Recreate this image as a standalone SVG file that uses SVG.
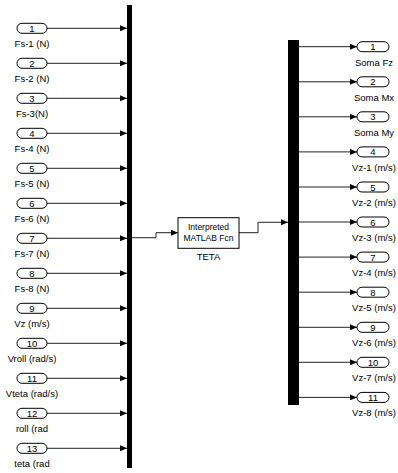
<svg xmlns="http://www.w3.org/2000/svg" width="398" height="473" viewBox="0 0 398 473">
<defs>
<marker id="ah" markerWidth="7" markerHeight="6" refX="7" refY="3" orient="auto" markerUnits="userSpaceOnUse"><path d="M0,0 L7,3 L0,6 Z" fill="#000"/></marker>
</defs>
<style>
text{font-family:"Liberation Sans",Arial,sans-serif;fill:#000;text-anchor:middle}
.port{fill:#fff;stroke:#000;stroke-width:1}
.num{font-size:9.5px}
.lbl{font-size:9.5px}
.bar{fill:#000}
.wire{fill:none;stroke:#222;stroke-width:1;marker-end:url(#ah)}
.blk{fill:#fff;stroke:#000;stroke-width:1}
</style>
<rect width="398" height="473" fill="#fff"/>
<g id="connectors">
<path class="wire" d="M47,28.3H127"/>
<path class="wire" d="M47,63.3H127"/>
<path class="wire" d="M47,98.3H127"/>
<path class="wire" d="M47,133.3H127"/>
<path class="wire" d="M47,168.3H127"/>
<path class="wire" d="M47,203.3H127"/>
<path class="wire" d="M47,238.3H127"/>
<path class="wire" d="M47,273.3H127"/>
<path class="wire" d="M47,308.3H127"/>
<path class="wire" d="M47,343.3H127"/>
<path class="wire" d="M47,378.3H127"/>
<path class="wire" d="M47,413.3H127"/>
<path class="wire" d="M47,448.3H127"/>
<path class="wire" d="M132,237.7H156V232.7H178"/>
<path class="wire" d="M239,232.7H258V222.3H288"/>
<path class="wire" d="M299,46.7H357"/>
<path class="wire" d="M299,81.8H357"/>
<path class="wire" d="M299,116.8H357"/>
<path class="wire" d="M299,151.9H357"/>
<path class="wire" d="M299,187H357"/>
<path class="wire" d="M299,222H357"/>
<path class="wire" d="M299,257.1H357"/>
<path class="wire" d="M299,292.2H357"/>
<path class="wire" d="M299,327.3H357"/>
<path class="wire" d="M299,362.3H357"/>
<path class="wire" d="M299,397.4H357"/>
</g>
<g id="mux_in"><rect class="bar" x="127" y="5" width="5" height="463"/></g>
<g id="mux_out"><rect class="bar" x="288" y="40" width="11" height="365"/></g>
<g id="teta">
<rect class="blk" x="178" y="217.7" width="61" height="30.6"/>
<text x="208.5" y="230" font-size="8.5">Interpreted</text>
<text x="208.5" y="241" font-size="8.5">MATLAB Fcn</text>
<text x="208.5" y="260" class="lbl">TETA</text>
</g>
<g id="in1"><rect class="port" x="17" y="23.3" width="30" height="10" rx="5"/><text class="num" x="32" y="31.8">1</text><text class="lbl" x="32" y="46.8">Fs-1 (N)</text></g>
<g id="in2"><rect class="port" x="17" y="58.3" width="30" height="10" rx="5"/><text class="num" x="32" y="66.8">2</text><text class="lbl" x="32" y="81.8">Fs-2 (N)</text></g>
<g id="in3"><rect class="port" x="17" y="93.3" width="30" height="10" rx="5"/><text class="num" x="32" y="101.8">3</text><text class="lbl" x="32" y="116.8">Fs-3(N)</text></g>
<g id="in4"><rect class="port" x="17" y="128.3" width="30" height="10" rx="5"/><text class="num" x="32" y="136.8">4</text><text class="lbl" x="32" y="151.8">Fs-4 (N)</text></g>
<g id="in5"><rect class="port" x="17" y="163.3" width="30" height="10" rx="5"/><text class="num" x="32" y="171.8">5</text><text class="lbl" x="32" y="186.8">Fs-5 (N)</text></g>
<g id="in6"><rect class="port" x="17" y="198.3" width="30" height="10" rx="5"/><text class="num" x="32" y="206.8">6</text><text class="lbl" x="32" y="221.8">Fs-6 (N)</text></g>
<g id="in7"><rect class="port" x="17" y="233.3" width="30" height="10" rx="5"/><text class="num" x="32" y="241.8">7</text><text class="lbl" x="32" y="256.8">Fs-7 (N)</text></g>
<g id="in8"><rect class="port" x="17" y="268.3" width="30" height="10" rx="5"/><text class="num" x="32" y="276.8">8</text><text class="lbl" x="32" y="291.8">Fs-8 (N)</text></g>
<g id="in9"><rect class="port" x="17" y="303.3" width="30" height="10" rx="5"/><text class="num" x="32" y="311.8">9</text><text class="lbl" x="32" y="326.8">Vz (m/s)</text></g>
<g id="in10"><rect class="port" x="17" y="338.3" width="30" height="10" rx="5"/><text class="num" x="32" y="346.8">10</text><text class="lbl" x="32" y="361.8">Vroll (rad/s)</text></g>
<g id="in11"><rect class="port" x="17" y="373.3" width="30" height="10" rx="5"/><text class="num" x="32" y="381.8">11</text><text class="lbl" x="32" y="396.8">Vteta (rad/s)</text></g>
<g id="in12"><rect class="port" x="17" y="408.3" width="30" height="10" rx="5"/><text class="num" x="32" y="416.8">12</text><text class="lbl" x="32" y="431.8">roll (rad</text></g>
<g id="in13"><rect class="port" x="17" y="443.3" width="30" height="10" rx="5"/><text class="num" x="32" y="451.8">13</text><text class="lbl" x="32" y="466.8">teta (rad</text></g>
<g id="out1"><rect class="port" x="357" y="41.7" width="32" height="10" rx="5"/><text class="num" x="373" y="50.2">1</text><text class="lbl" x="374" y="65.7">Soma Fz</text></g>
<g id="out2"><rect class="port" x="357" y="76.8" width="32" height="10" rx="5"/><text class="num" x="373" y="85.3">2</text><text class="lbl" x="374" y="100.8">Soma Mx</text></g>
<g id="out3"><rect class="port" x="357" y="111.8" width="32" height="10" rx="5"/><text class="num" x="373" y="120.3">3</text><text class="lbl" x="374" y="135.8">Soma My</text></g>
<g id="out4"><rect class="port" x="357" y="146.9" width="32" height="10" rx="5"/><text class="num" x="373" y="155.4">4</text><text class="lbl" x="374" y="170.9">Vz-1 (m/s)</text></g>
<g id="out5"><rect class="port" x="357" y="182" width="32" height="10" rx="5"/><text class="num" x="373" y="190.5">5</text><text class="lbl" x="374" y="206">Vz-2 (m/s)</text></g>
<g id="out6"><rect class="port" x="357" y="217" width="32" height="10" rx="5"/><text class="num" x="373" y="225.5">6</text><text class="lbl" x="374" y="241">Vz-3 (m/s)</text></g>
<g id="out7"><rect class="port" x="357" y="252.1" width="32" height="10" rx="5"/><text class="num" x="373" y="260.6">7</text><text class="lbl" x="374" y="276.1">Vz-4 (m/s)</text></g>
<g id="out8"><rect class="port" x="357" y="287.2" width="32" height="10" rx="5"/><text class="num" x="373" y="295.7">8</text><text class="lbl" x="374" y="311.2">Vz-5 (m/s)</text></g>
<g id="out9"><rect class="port" x="357" y="322.3" width="32" height="10" rx="5"/><text class="num" x="373" y="330.8">9</text><text class="lbl" x="374" y="346.3">Vz-6 (m/s)</text></g>
<g id="out10"><rect class="port" x="357" y="357.3" width="32" height="10" rx="5"/><text class="num" x="373" y="365.8">10</text><text class="lbl" x="374" y="381.3">Vz-7 (m/s)</text></g>
<g id="out11"><rect class="port" x="357" y="392.4" width="32" height="10" rx="5"/><text class="num" x="373" y="400.9">11</text><text class="lbl" x="374" y="416.4">Vz-8 (m/s)</text></g>
</svg>
